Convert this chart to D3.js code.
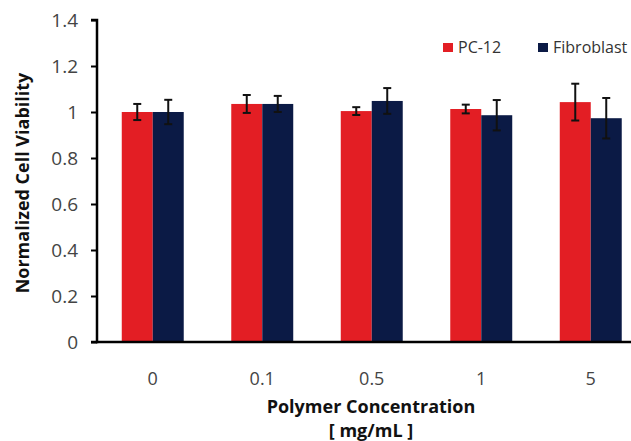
<!DOCTYPE html>
<html>
<head>
<meta charset="utf-8">
<script src="https://cdn.jsdelivr.net/npm/d3@7"></script>
<style>
  body { margin: 0; background: #fff; }
  text { font-family: "Open Sans", "DejaVu Sans", sans-serif; }
</style>
</head>
<body>
<div id="chart"></div>
<script>
// data
var concentrations = ["0", "0.1", "0.5", "1", "5"];
var seriesNames = ["PC-12", "Fibroblast"];
var pc12Values = [1.00, 1.035, 1.004, 1.013, 1.043];
var pc12Errors = [0.035, 0.039, 0.017, 0.019, 0.080];
var fibroValues = [1.00, 1.035, 1.048, 0.986, 0.973];
var fibroErrors = [0.053, 0.035, 0.056, 0.066, 0.088];
var yTicks = [0, 0.2, 0.4, 0.6, 0.8, 1, 1.2, 1.4];
var colors = ["#e31e24", "#0b1a45"];

var width = 631, height = 441;
var svg = d3.select("#chart").append("svg")
    .attr("width", width)
    .attr("height", height);

var rows = [];
concentrations.forEach(function (c, i) {
    rows.push({ conc: c, series: seriesNames[0], value: pc12Values[i], err: pc12Errors[i] });
    rows.push({ conc: c, series: seriesNames[1], value: fibroValues[i], err: fibroErrors[i] });
});

var x0 = d3.scaleBand().domain(concentrations).range([98, 645.5])
    .paddingInner(0.434).paddingOuter(0.217);
var x1 = d3.scaleBand().domain(seriesNames).range([0, x0.bandwidth()]);
var y = d3.scaleLinear().domain([0, 1.4]).range([342, 20]);
var color = d3.scaleOrdinal().domain(seriesNames).range(colors);

// bars
svg.append("g").selectAll("rect")
    .data(rows)
    .enter().append("rect")
    .attr("x", function (d) { return x0(d.conc) + x1(d.series); })
    .attr("y", function (d) { return y(d.value); })
    .attr("width", x1.bandwidth())
    .attr("height", function (d) { return y(0) - y(d.value); })
    .attr("fill", function (d) { return color(d.series); });

// error bars
var eb = svg.append("g").selectAll("g")
    .data(rows)
    .enter().append("g")
    .attr("stroke", "#111")
    .attr("stroke-width", 2);
eb.append("line")
    .attr("x1", function (d) { return x0(d.conc) + x1(d.series) + x1.bandwidth() / 2; })
    .attr("x2", function (d) { return x0(d.conc) + x1(d.series) + x1.bandwidth() / 2; })
    .attr("y1", function (d) { return y(d.value + d.err); })
    .attr("y2", function (d) { return y(d.value - d.err); });
[1, -1].forEach(function (s) {
    eb.append("line")
        .attr("x1", function (d) { return x0(d.conc) + x1(d.series) + x1.bandwidth() / 2 - 4; })
        .attr("x2", function (d) { return x0(d.conc) + x1(d.series) + x1.bandwidth() / 2 + 4; })
        .attr("y1", function (d) { return y(d.value + s * d.err); })
        .attr("y2", function (d) { return y(d.value + s * d.err); });
});

// y axis
var yAxis = d3.axisLeft(y).tickValues(yTicks).tickSize(6).tickPadding(13)
    .tickFormat(function (d) { return String(d); });
var gy = svg.append("g").attr("transform", "translate(97,0)").call(yAxis);
gy.select(".domain").attr("stroke", "#000").attr("stroke-width", 2.5)
    .attr("d", "M-6," + y(1.4) + "H0V" + y(0) + "H-6");
gy.selectAll(".tick line").attr("stroke", "#000").attr("stroke-width", 2);
gy.selectAll(".tick text").attr("font-size", 19).attr("fill", "#444")
    .style("font-family", "'Open Sans', sans-serif");

// x axis
var xAxis = d3.axisBottom(x0).tickSize(0).tickPadding(30);
var gx = svg.append("g").attr("transform", "translate(0," + y(0) + ")").call(xAxis);
gx.select(".domain").attr("stroke", "#000").attr("stroke-width", 2.5)
    .attr("d", "M96,0H" + width);
gx.selectAll(".tick text").attr("font-size", 18).attr("fill", "#444")
    .style("font-family", "'Open Sans', sans-serif");

// axis titles
svg.append("text")
    .attr("transform", "translate(29,183) rotate(-90)")
    .attr("text-anchor", "middle")
    .attr("font-size", 18).attr("font-weight", "bold").attr("fill", "#111")
    .text("Normalized Cell Viability");
svg.append("text")
    .attr("x", 371).attr("y", 413)
    .attr("text-anchor", "middle")
    .attr("font-size", 18).attr("font-weight", "bold").attr("fill", "#111")
    .text("Polymer Concentration");
svg.append("text")
    .attr("x", 371).attr("y", 437)
    .attr("text-anchor", "middle")
    .attr("font-size", 18).attr("font-weight", "bold").attr("fill", "#111")
    .text("[ mg/mL ]");

// legend
var legendX = [443, 538];
var legend = svg.append("g").selectAll("g")
    .data(seriesNames)
    .enter().append("g")
    .attr("transform", function (d, i) { return "translate(" + legendX[i] + ",43)"; });
legend.append("rect")
    .attr("width", 10).attr("height", 9)
    .attr("fill", function (d) { return color(d); });
legend.append("text")
    .attr("x", 15).attr("y", 10)
    .attr("font-size", 16).attr("fill", "#333")
    .text(function (d) { return d; });
</script>
</body>
</html>
